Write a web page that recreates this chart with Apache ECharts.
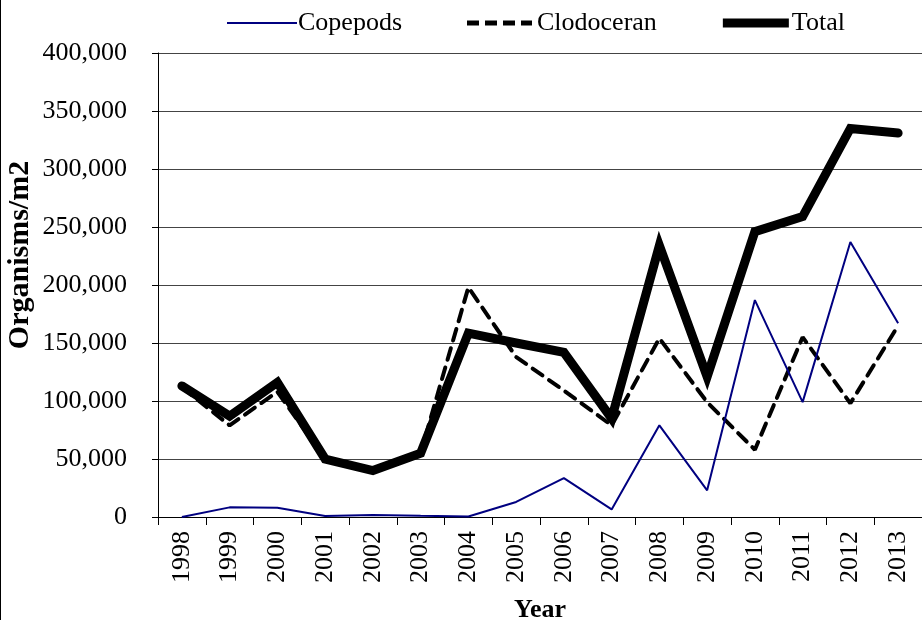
<!DOCTYPE html>
<html>
<head>
<meta charset="utf-8">
<script src="https://cdn.jsdelivr.net/npm/echarts@6/dist/echarts.min.js"></script>
<style>
  html, body { margin: 0; padding: 0; background: #fff; }
  #chart { width: 922px; height: 620px; }
</style>
</head>
<body>
<div id="chart"></div>
<script>
// 年份
const years = ["1998", "1999", "2000", "2001", "2002", "2003", "2004", "2005",
  "2006", "2007", "2008", "2009", "2010", "2011", "2012", "2013"];

// 各类浮游动物密度 (Organisms/m2)
const copepods = [0, 8300, 8000, 800, 1700, 1000, 500, 13000,
  33500, 6500, 79000, 23000, 187000, 99000, 237000, 167000];
const clodoceran = [112000, 79000, 108000, 50000, 39000, 55000, 198000, 138000,
  109000, 79000, 154000, 99000, 58000, 155000, 98000, 165000];
const total = [113000, 87000, 116000, 50000, 40000, 55000, 158500, 150000,
  142000, 85000, 234000, 121000, 246000, 259000, 335000, 331000];

const yTicks = [0, 50000, 100000, 150000, 200000, 250000, 300000, 350000, 400000];

const font = "'Liberation Serif', 'Times New Roman', serif";

// 图例图标 (70x10 的框, 角上的小点撑开边界)
const corners = "M0,0 L0.01,0 L0,0.01 Z M70,10 L69.99,10 L70,9.99 Z ";
const iconThin = "path://" + corners + "M0,4 L70,4 L70,6 L0,6 Z";
const iconDash = "path://" + corners +
  "M1,2.5 L13,2.5 L13,7.5 L1,7.5 Z M19,2.5 L31,2.5 L31,7.5 L19,7.5 Z " +
  "M37,2.5 L49,2.5 L49,7.5 L37,7.5 Z M55,2.5 L66,2.5 L66,7.5 L55,7.5 Z";
const iconThick = "path://" + corners + "M2,0.5 L68,0.5 L68,9.5 L2,9.5 Z";

const chart = echarts.init(document.getElementById("chart"), null, { renderer: "canvas" });

const option = {
  backgroundColor: "#fff",
  animation: false,
  textStyle: { fontFamily: font, color: "#000" },
  legend: {
    top: 5,
    left: 222,
    itemWidth: 70,
    itemHeight: 10,
    itemGap: 64,
    itemStyle: { borderWidth: 0 },
    textStyle: { fontFamily: font, fontSize: 26, color: "#000", padding: [0, 0, 0, -4] },
    data: [
      { name: "Copepods", icon: iconThin },
      { name: "Clodoceran", icon: iconDash },
      { name: "Total", icon: iconThick }
    ]
  },
  grid: { left: 158, right: 0, top: 53, bottom: 103, outerBoundsMode: "none", containLabel: false },
  xAxis: {
    type: "category",
    data: years,
    boundaryGap: true,
    name: "Year",
    nameLocation: "middle",
    nameGap: 80,
    nameTextStyle: { fontFamily: font, fontSize: 26, fontWeight: "bold", color: "#000" },
    axisLine: { lineStyle: { color: "#000", width: 1 } },
    axisTick: { show: true, inside: false, length: 8, interval: 0, lineStyle: { color: "#000" } },
    axisLabel: {
      interval: 0,
      rotate: 90,
      margin: 14,
      fontFamily: font,
      fontSize: 26,
      color: "#000"
    }
  },
  yAxis: {
    type: "value",
    min: 0,
    max: 400000,
    interval: 50000,
    axisLine: { show: true, lineStyle: { color: "#000", width: 1 } },
    axisTick: { show: true, inside: false, length: 6, lineStyle: { color: "#000" } },
    axisLabel: {
      margin: 31,
      fontFamily: font,
      fontSize: 26,
      color: "#000",
      formatter: (v) => yTicks.includes(v) ? v.toLocaleString("en-US") : ""
    },
    splitLine: { show: true, lineStyle: { color: "#444", width: 1 } }
  },
  series: [
    {
      name: "Copepods",
      type: "line",
      data: copepods,
      symbol: "none",
      color: "#000080",
      lineStyle: { color: "#000080", width: 2 },
      z: 3
    },
    {
      name: "Clodoceran",
      type: "line",
      data: clodoceran,
      symbol: "none",
      color: "#000",
      lineStyle: { color: "#000", width: 4, type: [12, 8], cap: "round" },
      z: 2
    },
    {
      name: "Total",
      type: "line",
      data: total,
      symbol: "none",
      color: "#000",
      lineStyle: { color: "#000", width: 9, cap: "round", join: "miter" },
      z: 1
    }
  ],
  graphic: [
    {
      type: "line",
      shape: { x1: 0.5, y1: 0, x2: 0.5, y2: 620 },
      style: { stroke: "#000", lineWidth: 1 }
    },
    {
      // 纵轴标题 (原图偏上)
      type: "text",
      x: 20,
      y: 255,
      rotation: Math.PI / 2,
      style: {
        text: "Organisms/m2",
        fontFamily: font,
        fontSize: 30,
        fontWeight: "bold",
        fill: "#000",
        align: "center",
        verticalAlign: "middle"
      }
    }
  ]
};

chart.setOption(option);
</script>
</body>
</html>
